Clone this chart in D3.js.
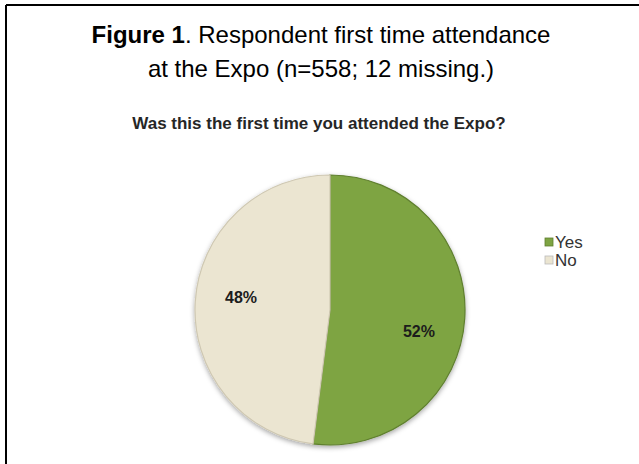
<!DOCTYPE html>
<html><head><meta charset="utf-8">
<script src="https://cdn.jsdelivr.net/npm/d3@7"></script>
<style>body{margin:0;background:#fff}svg{display:block}</style>
</head><body>
<script>
const categories = ["Yes", "No"];
const values = [52, 48];
const colors = ["#7ea443", "#ebe5d1"];
const titleLine1Bold = "Figure 1";
const titleLine1Rest = ". Respondent first time attendance";
const titleLine2 = "at the Expo (n=558; 12 missing.)";
const subtitle = "Was this the first time you attended the Expo?";

const W = 639, H = 464;
const svg = d3.select("body").append("svg").attr("width", W).attr("height", H);

const defs = svg.append("defs");
const f = defs.append("filter").attr("id","sh").attr("x","-20%").attr("y","-20%").attr("width","140%").attr("height","140%");
f.append("feDropShadow").attr("dx",0).attr("dy",2).attr("stdDeviation",2.5).attr("flood-color","#000").attr("flood-opacity",0.35);

// frame (left and top edges)
svg.append("line").attr("x1",6).attr("y1",5).attr("x2",639).attr("y2",5).attr("stroke","#000").attr("stroke-width",2);
svg.append("line").attr("x1",6).attr("y1",5).attr("x2",6).attr("y2",464).attr("stroke","#000").attr("stroke-width",2);

const t1 = svg.append("text").attr("x",321).attr("y",43).attr("text-anchor","middle")
  .style("font-family","Liberation Sans, Arial, sans-serif").style("font-size","24px").attr("fill","#000");
t1.append("tspan").attr("font-weight","bold").text(titleLine1Bold);
t1.append("tspan").text(titleLine1Rest);
svg.append("text").attr("x",321).attr("y",77).attr("text-anchor","middle")
  .style("font-family","Liberation Sans, Arial, sans-serif").style("font-size","24px").text(titleLine2);

svg.append("text").attr("x",319).attr("y",129).attr("text-anchor","middle")
  .style("font-family","Liberation Sans, Arial, sans-serif").style("font-size","17px").style("font-weight","bold")
  .attr("fill","#262626").text(subtitle);

const cx = 330, cy = 310, r = 135;
const pie = d3.pie().sort(null).value(d => d);
const arcs = pie(values);
const arc = d3.arc().innerRadius(0).outerRadius(r);
const color = d3.scaleOrdinal().domain(categories).range(colors);

const g = svg.append("g").attr("transform", `translate(${cx},${cy})`);
g.append("g").attr("filter","url(#sh)").selectAll("path").data(arcs).join("path")
  .attr("d", arc).attr("fill", (d,i) => color(categories[i]))
  .attr("stroke", (d,i) => i===0 ? "#5f7f2e" : "#cfc8b2").attr("stroke-width", 1.2);

const labelArc = d3.arc().innerRadius(r*0.66).outerRadius(r*0.66);
const labelShift = [16, -7];
g.selectAll("text.lbl").data(arcs).join("text").attr("class","lbl")
  .attr("transform", (d,i) => { const c = labelArc.centroid(d); return `translate(${c[0]},${c[1] + labelShift[i]})`; })
  .attr("text-anchor","middle").attr("dy","0.35em")
  .style("font-family","Liberation Sans, Arial, sans-serif").style("font-size","16px").style("font-weight","bold")
  .attr("fill","#1c1c1c").text(d => d.value + "%");

const leg = svg.append("g").attr("transform","translate(545,235)");
categories.forEach((c,i) => {
  const row = leg.append("g").attr("transform",`translate(0,${i*18})`);
  row.append("rect").attr("x",0).attr("y",3).attr("width",8).attr("height",8).attr("fill",color(c))
    .attr("stroke", i===0 ? "#5f7f2e" : "#bbb").attr("stroke-width",0.8);
  row.append("text").attr("x",10).attr("y",13).style("font-family","Liberation Sans, Arial, sans-serif")
    .style("font-size","17px").attr("fill","#333").text(c);
});
</script>
</body></html>
